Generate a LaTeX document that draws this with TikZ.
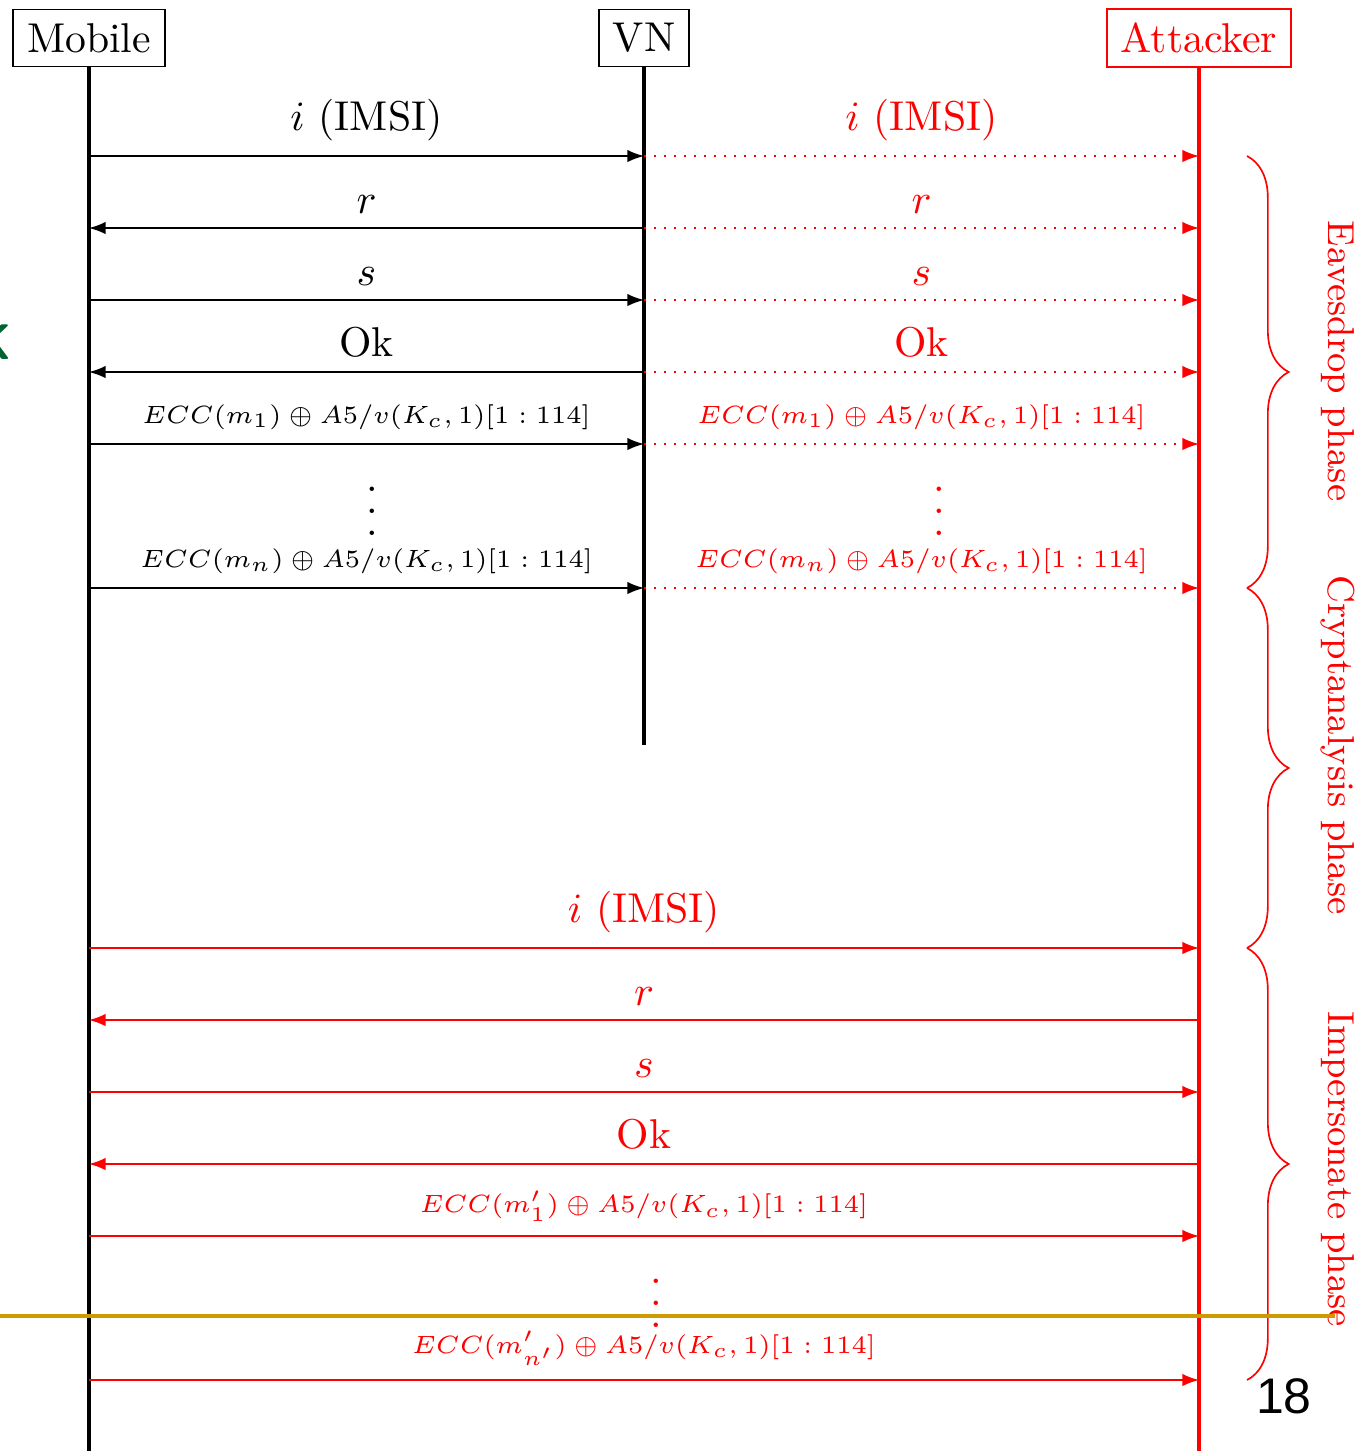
\documentclass[tikz,border=0pt]{standalone}
\usepackage{amsmath}
\usepackage{fontspec}
\newfontfamily\slidefont{Liberation Sans}
\usetikzlibrary{positioning, arrows.meta, decorations.pathreplacing, calc}
\definecolor{slideGold}{RGB}{205,155,0}
\definecolor{slideGreen}{RGB}{0,100,50}
\newcommand{\msgdots}{\vbox{\baselineskip=5.3pt \lineskiplimit=0pt \hbox{.}\hbox{.}\hbox{.}}}

\begin{document}
\begin{tikzpicture}[
  x=0.24pt, y=-0.24pt,
  actor/.style={draw},
  life/.style={thick},
  msg/.style={-{Latex[length=4pt,width=3pt]}},
  spy/.style={red, dotted, -{Latex[length=4pt,width=3pt]}},
  lbl/.style={midway, above},
  ecc/.style={midway, above, font=\fontsize{6}{7}\selectfont},
  vdots/.style={inner sep=0pt},
  phase/.style={red, font=\small, rotate=-90},
  brace/.style={red, decorate, decoration={brace, amplitude=10pt}},
]
  \useasboundingbox (0,0) rectangle (1368,1451);

  % lifelines
  \node[actor] (mob) at (89,38) {Mobile};
  \node[actor] (vn) at (644,38) {VN};
  \node[actor, red] (att) at (1199,38) {Attacker};
  \coordinate (mobEnd) at (89,1451);
  \coordinate (vnEnd) at (644,745);
  \coordinate (attEnd) at (1199,1451);
  \draw[life] (mob) -- (mobEnd);
  \draw[life] (vn) -- (vnEnd);
  \draw[life, red] (att) -- (attEnd);

  \foreach \y [count=\i] in {156,228,300,372,444,588} {
    \coordinate (m\i) at (89,\y);
    \coordinate (v\i) at (644,\y);
    \coordinate (a\i) at (1199,\y);
  }
  \foreach \y [count=\i] in {948,1020,1092,1164,1236,1380} {
    \coordinate (p\i) at (89,\y);
    \coordinate (q\i) at (1199,\y);
  }

  % mobile <-> VN
  \draw[msg] (m1) -- (v1) node[lbl] {$i$ (IMSI)};
  \draw[msg] (v2) -- (m2) node[lbl] {$r$};
  \draw[msg] (m3) -- (v3) node[lbl] {$s$};
  \draw[msg] (v4) -- (m4) node[lbl] {Ok};
  \draw[msg] (m5) -- (v5) node[ecc] {$ECC(m_1) \oplus A5/v(K_c,1)[1:114]$};
  \draw[msg] (m6) -- (v6) node[ecc] {$ECC(m_n) \oplus A5/v(K_c,1)[1:114]$};
  \node[vdots] (dotsA) at (372,511) {\msgdots};

  % eavesdropped copies
  \draw[spy] (v1) -- (a1) node[lbl] {$i$ (IMSI)};
  \draw[spy] (v2) -- (a2) node[lbl] {$r$};
  \draw[spy] (v3) -- (a3) node[lbl] {$s$};
  \draw[spy] (v4) -- (a4) node[lbl] {Ok};
  \draw[spy] (v5) -- (a5) node[ecc] {$ECC(m_1) \oplus A5/v(K_c,1)[1:114]$};
  \draw[spy] (v6) -- (a6) node[ecc] {$ECC(m_n) \oplus A5/v(K_c,1)[1:114]$};
  \node[vdots, red] (dotsB) at (939,511) {\msgdots};

  % attacker impersonates VN
  \draw[msg, red] (p1) -- (q1) node[lbl] {$i$ (IMSI)};
  \draw[msg, red] (q2) -- (p2) node[lbl] {$r$};
  \draw[msg, red] (p3) -- (q3) node[lbl] {$s$};
  \draw[msg, red] (q4) -- (p4) node[lbl] {Ok};
  \draw[msg, red] (p5) -- (q5) node[ecc] {$ECC(m'_1) \oplus A5/v(K_c,1)[1:114]$};
  \draw[msg, red] (p6) -- (q6) node[ecc] {$ECC(m'_{n'}) \oplus A5/v(K_c,1)[1:114]$};
  \node[vdots, red] (dotsC) at (656,1303) {\msgdots};

  % phases
  \coordinate (b1) at (1247,156);
  \coordinate (b2) at (1247,588);
  \coordinate (b3) at (1247,948);
  \coordinate (b4) at (1247,1380);
  \draw[brace] (b1) -- (b2);
  \draw[brace] (b2) -- (b3);
  \draw[brace] (b3) -- (b4);
  \node[phase] (eav) at (1338,361) {Eavesdrop phase};
  \node[phase] (cry) at (1338,745) {Cryptanalysis phase};
  \node[phase] (imp) at (1338,1169) {Impersonate phase};

  % slide leftovers
  \node[text=slideGreen, font=\sffamily\bfseries\large, anchor=east, inner sep=0pt] (kfrag) at (13,342) {K};
  \coordinate (goldL) at (0,1316);
  \coordinate (goldR) at (1335,1316);
  \draw[slideGold, line width=1pt] (goldL) -- (goldR);
  \node[font=\slidefont\fontsize{12}{14}\selectfont] (pagenum) at (1284,1396) {18};
\end{tikzpicture}
\end{document}
